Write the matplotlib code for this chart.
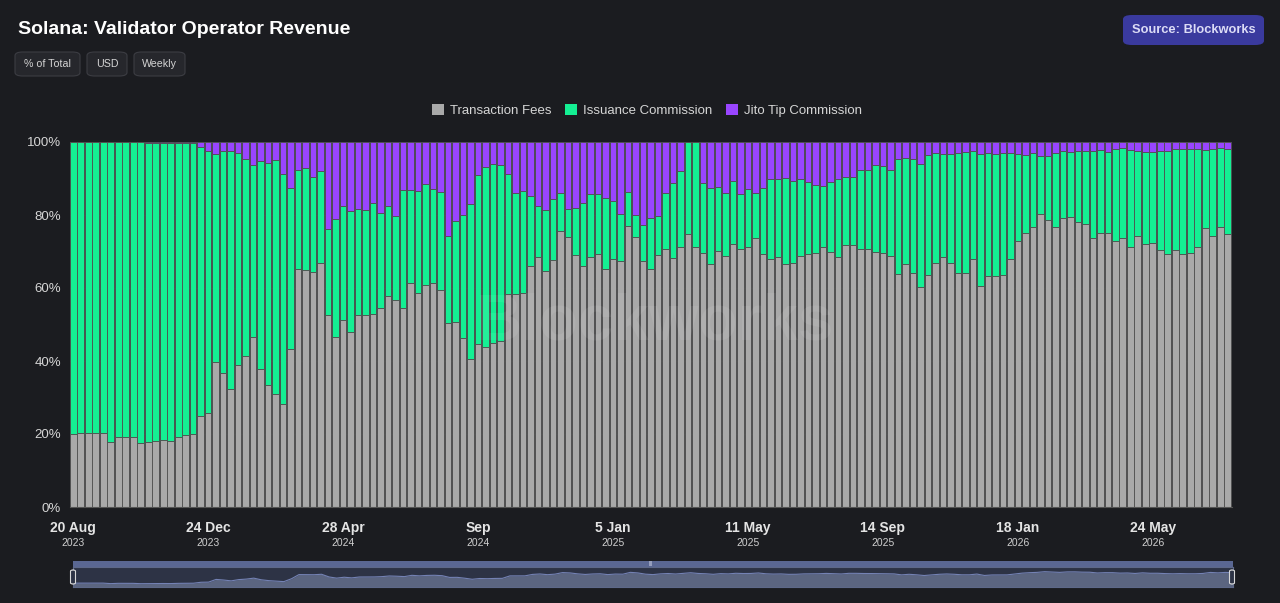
#!/usr/bin/env python3

import numpy as np
import matplotlib.pyplot as plt
from matplotlib.patches import FancyBboxPatch, Patch
from matplotlib.transforms import blended_transform_factory

# weekly shares in % of total, starting week of 20 Aug 2023
fees = [19.9, 20.4, 20.2, 20.4, 20.4, 17.7, 19.3, 19.3, 19.1, 17.4,
        17.7, 18.1, 18.3, 18.0, 19.2, 19.7, 19.9, 24.9, 25.7, 39.8,
        36.6, 32.2, 38.8, 41.5, 46.5, 37.8, 33.4, 31.0, 28.3, 43.2,
        65.2, 65.0, 64.5, 66.8, 52.7, 46.6, 51.3, 47.9, 52.5, 52.5,
        52.9, 54.4, 57.9, 56.6, 54.6, 61.3, 58.5, 60.8, 61.5, 59.5,
        50.3, 50.7, 46.2, 40.6, 44.6, 43.7, 44.9, 45.4, 58.3, 58.3,
        58.5, 66.1, 68.4, 64.7, 67.6, 75.7, 73.9, 69.0, 65.9, 68.4,
        69.4, 65.1, 67.9, 67.3, 76.9, 73.9, 67.4, 65.1, 69.0, 70.8,
        68.2, 71.3, 74.9, 71.1, 69.5, 66.6, 70.1, 68.8, 72.0, 70.7,
        71.1, 73.6, 69.3, 67.9, 68.6, 66.5, 66.8, 68.8, 69.2, 69.6,
        71.3, 69.8, 68.4, 71.8, 71.7, 70.8, 70.6, 69.8, 69.5, 68.8,
        63.7, 66.7, 64.0, 60.3, 63.5, 66.8, 68.4, 66.8, 64.0, 64.0,
        67.9, 60.6, 63.2, 63.2, 63.5, 67.9, 72.8, 75.2, 76.8, 80.4,
        78.6, 76.8, 79.3, 79.5, 78.0, 77.6, 73.6, 75.2, 75.2, 72.9,
        73.6, 71.1, 74.3, 72.1, 72.2, 70.4, 69.3, 70.3, 69.4, 69.5,
        71.1, 76.5, 74.2, 76.6, 74.7]

jito = [0, 0, 0, 0, 0, 0, 0, 0, 0, 0,
        0.2, 0.2, 0.2, 0.2, 0.2, 0.2, 0.2, 1.3, 2.6, 3.2,
        2.4, 2.6, 3.0, 4.7, 6.3, 5.1, 5.8, 4.9, 8.7, 12.5,
        7.6, 7.0, 9.5, 7.9, 23.7, 21.2, 17.5, 18.9, 18.4, 18.6,
        16.8, 19.5, 17.5, 20.3, 13.2, 13.2, 13.4, 11.4, 12.8, 13.6,
        25.7, 21.7, 20.1, 17.0, 9.0, 6.8, 5.9, 6.2, 8.9, 14.0,
        13.4, 14.8, 17.4, 18.6, 15.6, 14.1, 18.3, 18.0, 16.8, 14.2,
        14.2, 15.4, 16.3, 19.6, 13.8, 19.9, 22.7, 20.7, 20.3, 14.0,
        11.1, 7.9, 0, 0, 11.1, 12.7, 12.3, 14.0, 10.7, 14.2,
        12.8, 14.0, 12.6, 10.1, 10.1, 9.9, 10.6, 10.2, 11.0, 11.7,
        12.0, 10.9, 10.0, 9.5, 9.7, 7.6, 7.6, 6.2, 6.5, 7.6,
        4.6, 4.3, 4.7, 6.1, 3.5, 3.1, 3.2, 3.2, 3.1, 2.7,
        2.5, 3.2, 3.1, 3.2, 3.0, 3.0, 3.3, 3.6, 3.0, 3.7,
        3.9, 3.0, 2.5, 2.7, 2.5, 2.4, 2.5, 2.2, 2.7, 1.9,
        1.6, 2.1, 2.6, 2.7, 2.7, 2.4, 2.4, 1.9, 1.8, 1.9,
        1.9, 2.3, 2.0, 1.6, 2.0]

tick_idx = [0, 18, 36, 54, 72, 90, 108, 126, 144]
tick_day = ["20 Aug", "24 Dec", "28 Apr", "Sep", "5 Jan", "11 May", "14 Sep", "18 Jan", "24 May"]
tick_year = ["2023", "2023", "2024", "2024", "2025", "2025", "2025", "2026", "2026"]

series_names = ["Transaction Fees", "Issuance Commission", "Jito Tip Commission"]
colors = ["#a9a9a9", "#14ef93", "#9945ff"]

BG = "#1b1c20"
W, H = 1280, 603

plt.rcParams['font.family'] = ['Liberation Sans', 'DejaVu Sans']

fees = np.array(fees)
jito = np.array(jito)
issuance = 100 - fees - jito
x = np.arange(len(fees))

fig = plt.figure(figsize=(W / 100, H / 100), dpi=100, facecolor=BG)


def fx(px):
    return px / W


def fy(py):
    return 1 - py / H


# main axes
ax = fig.add_axes([fx(69.5), fy(507), fx(1231.5 - 69.5), (507 - 142) / H])
ax.set_facecolor(BG)
bar_kw = dict(width=0.88, edgecolor="#505050", linewidth=0.6, zorder=2)
ax.bar(x, fees, color=colors[0], **bar_kw)
ax.bar(x, issuance, bottom=fees, color=colors[1], **bar_kw)
ax.bar(x, jito, bottom=fees + issuance, color=colors[2], **bar_kw)

ax.set_xlim(-0.5, len(fees) - 0.5)
ax.set_ylim(0, 100)
ax.set_yticks([0, 20, 40, 60, 80, 100])
ax.set_yticklabels([f"{v}%" for v in range(0, 101, 20)])
ax.tick_params(axis="y", length=0, colors="#d6d6d6", labelsize=9.5, pad=6)
ax.set_xticks([])
ax.grid(axis="y", color="#2f3036", linewidth=0.8, zorder=0)
for s in ["top", "right", "left"]:
    ax.spines[s].set_visible(False)
ax.spines["bottom"].set_color("#555555")
ax.spines["bottom"].set_zorder(3)

trans = blended_transform_factory(ax.transData, fig.transFigure)
for i, d, yr in zip(tick_idx, tick_day, tick_year):
    ax.text(i, fy(528), d, transform=trans, ha="center", va="center",
            fontsize=10, fontweight="bold", color="#e4e4e4")
    ax.text(i, fy(543), yr, transform=trans, ha="center", va="center",
            fontsize=7.5, color="#cfcfcf")

# watermark
fig.text(fx(655), fy(322), "Blockworks", ha="center", va="center",
         fontsize=46, fontweight="bold", color="white", alpha=0.07, zorder=10)

# title and buttons
fig.text(fx(18), fy(30), "Solana: Validator Operator Revenue", ha="left", va="center",
         fontsize=14, fontweight="bold", color="white")

for label, x0, x1 in [("% of Total", 15, 80), ("USD", 87, 127), ("Weekly", 134, 185)]:
    fig.patches.append(FancyBboxPatch((fx(x0), fy(76)), fx(x1 - x0), (76 - 52) / H,
                                      boxstyle="round,pad=0,rounding_size=0.006",
                                      transform=fig.transFigure, facecolor="#26272c",
                                      edgecolor="#3c3d43", linewidth=0.8))
    fig.text(fx((x0 + x1) / 2), fy(64), label, ha="center", va="center",
             fontsize=7.7, color="#d4d4d4")

fig.patches.append(FancyBboxPatch((fx(1123), fy(45)), fx(1264 - 1123), (45 - 15) / H,
                                  boxstyle="round,pad=0,rounding_size=0.007",
                                  transform=fig.transFigure, facecolor="#3a3a9e",
                                  edgecolor="none"))
fig.text(fx(1193.5), fy(30), "Source: Blockworks", ha="center", va="center",
         fontsize=9.3, fontweight="bold", color="#dcdcf6")

# legend
handles = [Patch(facecolor=c, edgecolor="none") for c in colors]
fig.legend(handles, series_names, loc="center", bbox_to_anchor=(fx(647), fy(110.5)),
           ncol=3, frameon=False, fontsize=9.5, labelcolor="#d6d6d6",
           handlelength=0.9, handleheight=0.9, handletextpad=0.5, columnspacing=1.0)

# navigator
nav = fig.add_axes([fx(73), fy(587), fx(1233 - 73), (587 - 567) / H])
nav.set_facecolor("#2d3345")
nav.fill_between(x, 0, fees, color="#5b6580", linewidth=0)
nav.plot(x, fees, color="#7482b4", linewidth=0.8)
nav.set_xlim(0, len(fees) - 1)
nav.set_ylim(0, 105)
nav.set_xticks([])
nav.set_yticks([])
for s in nav.spines.values():
    s.set_color("#5d6888")
    s.set_linewidth(0.8)

bar_top = fig.add_axes([fx(73), fy(567), fx(1233 - 73), (567 - 561) / H])
bar_top.set_facecolor("#5a6792")
bar_top.set_xticks([])
bar_top.set_yticks([])
for s in bar_top.spines.values():
    s.set_visible(False)
fig.text(fx(651), fy(564), "|||", ha="center", va="center", fontsize=4, color="#d0d4e6")

for hx in [73, 1232]:
    fig.patches.append(FancyBboxPatch((fx(hx - 2.5), fy(584)), fx(5), (584 - 570) / H,
                                      boxstyle="round,pad=0,rounding_size=0.002",
                                      transform=fig.transFigure, facecolor="#2d3345",
                                      edgecolor="#d8d8d8", linewidth=0.8, zorder=5))

fig.savefig("out.png", dpi=100, facecolor=BG)
